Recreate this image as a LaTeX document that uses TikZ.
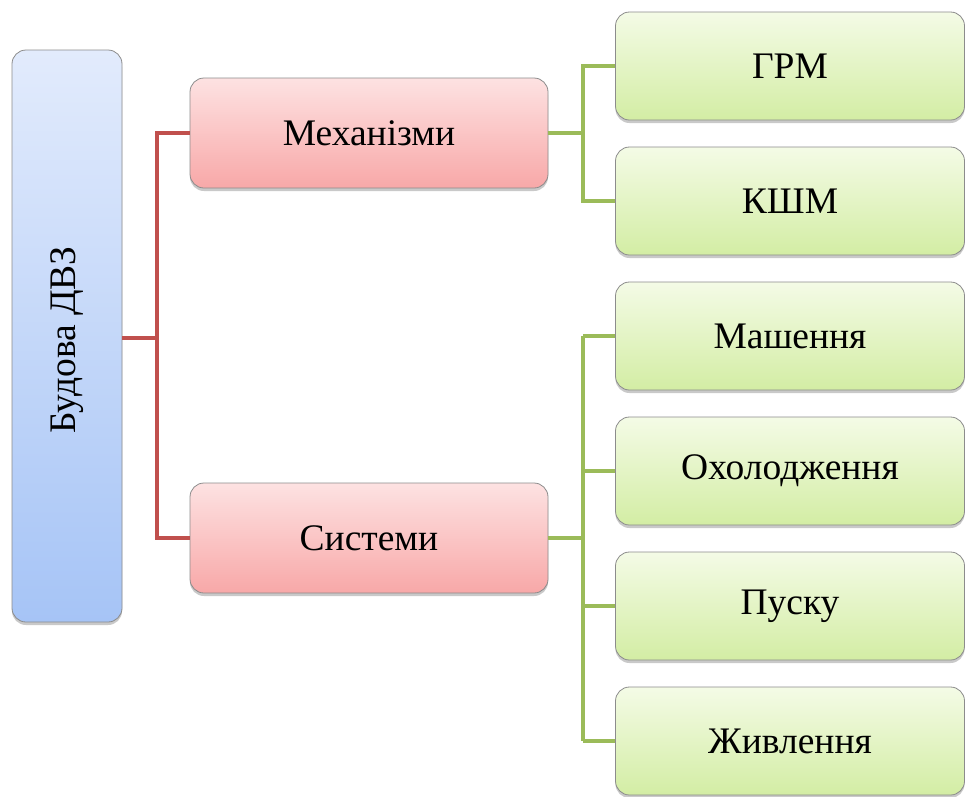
\documentclass[tikz,border=0pt]{standalone}
\usepackage{fontspec}
\setmainfont{Liberation Serif}
\newfontfamily\tnr{Liberation Serif}
\usetikzlibrary{shadows}
\definecolor{bluetop}{HTML}{E2EBFC}
\definecolor{bluebot}{HTML}{A6C4F6}
\definecolor{redtop}{HTML}{FDE2E2}
\definecolor{redbot}{HTML}{F8A8A8}
\definecolor{greentop}{HTML}{F4FBE6}
\definecolor{greenbot}{HTML}{D3EDA4}
\definecolor{redline}{HTML}{C0504D}
\definecolor{greenline}{HTML}{9BBB59}
\definecolor{edgegray}{HTML}{8C8C8C}
\tikzset{
  x=1pt,y=-1pt,
  labelfont/.style={font=\tnr\fontsize{37.5}{42}\selectfont},
  box/.style={rounded corners=14pt, draw=edgegray, line width=0.8pt, inner sep=0pt,
    labelfont,
    drop shadow={shadow xshift=0pt, shadow yshift=-3pt, opacity=0.35, fill=black!60}},
  rootbox/.style={box, top color=bluetop, bottom color=bluebot, minimum width=110pt, minimum height=572pt},
  midbox/.style={box, top color=redtop, bottom color=redbot, minimum width=358pt, minimum height=110pt},
  leafbox/.style={box, top color=greentop, bottom color=greenbot, minimum width=349pt, minimum height=108pt},
  redconn/.style={draw=redline, line width=4pt},
  greenconn/.style={draw=greenline, line width=4pt},
}
\begin{document}
\begin{tikzpicture}
\useasboundingbox (0,0) rectangle (968,796);
\fill[white] (0,0) rectangle (968,796);
\coordinate (rj) at (157,338);
\coordinate (gj1) at (583,133);
\coordinate (gj2) at (583,538);
% nodes
\node[rootbox] (root) at (67,336) {};
\node[rotate=90, labelfont] (roottxt) at (67,340) {Будова ДВЗ};
\node[midbox] (mech) at (369,133) {Механізми};
\node[midbox] (sys) at (369,538) {Системи};
\node[leafbox] (grm) at (790,66) {ГРМ};
\node[leafbox] (kshm) at (790,201) {КШМ};
\node[leafbox] (mash) at (790,336) {Машення};
\node[leafbox] (okh) at (790,471) {Охолодження};
\node[leafbox] (pusk) at (790,606) {Пуску};
\node[leafbox] (zhyv) at (790,741) {Живлення};
% red connectors
\draw[redconn] (root.east |- rj) -- (rj);
\draw[redconn] (rj) |- (mech.west);
\draw[redconn] (rj) |- (sys.west);
% green connectors
\draw[greenconn] (mech.east) -- (gj1);
\draw[greenconn] (gj1) |- (grm.west);
\draw[greenconn] (gj1) |- (kshm.west);
\draw[greenconn] (sys.east) -- (gj2);
\draw[greenconn] (gj2 |- mash.west) -- (gj2 |- zhyv.west);
\draw[greenconn] (gj2 |- mash.west) -- (mash.west);
\draw[greenconn] (gj2 |- okh.west) -- (okh.west);
\draw[greenconn] (gj2 |- pusk.west) -- (pusk.west);
\draw[greenconn] (gj2 |- zhyv.west) -- (zhyv.west);
\end{tikzpicture}
\end{document}
